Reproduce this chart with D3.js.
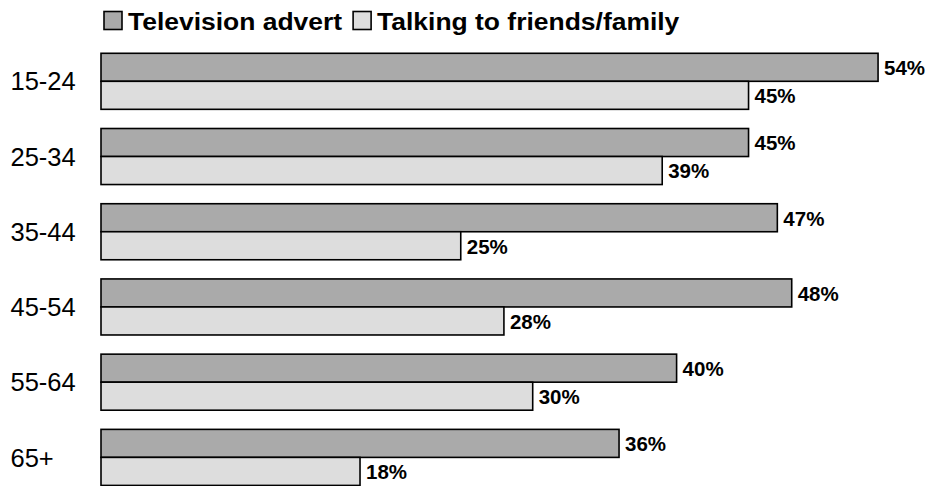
<!DOCTYPE html>
<html>
<head>
<meta charset="utf-8">
<script src="https://cdn.jsdelivr.net/npm/d3@7"></script>
<style>
  html, body { margin: 0; padding: 0; background: #fff; }
  svg { display: block; font-family: "Liberation Sans", Arial, sans-serif; }
</style>
</head>
<body>
<svg id="chart" width="929" height="486"></svg>
<script>
// Age groups and the share of each group reached through each channel (%)
const ageGroups = ["15-24", "25-34", "35-44", "45-54", "55-64", "65+"];
const seriesNames = ["Television advert", "Talking to friends/family"];
const televisionAdvert = [54, 45, 47, 48, 40, 36];
const talkingToFriends = [45, 39, 25, 28, 30, 18];
const seriesColors = ["#aaaaaa", "#dddddd"];

const rows = ageGroups.map((g, i) => ({
  group: g,
  values: [televisionAdvert[i], talkingToFriends[i]]
}));

const svg = d3.select("#chart");

const x = d3.scaleLinear().domain([0, 60]).range([101, 964.4]);

const y = d3.scaleBand()
  .domain(ageGroups)
  .range([43.7, 495])
  .paddingInner(0.255)
  .paddingOuter(0.1275);

const ySub = d3.scaleBand()
  .domain(d3.range(seriesNames.length))
  .range([0, y.bandwidth()]);

// Category labels on the left
svg.append("g")
  .selectAll("text")
  .data(ageGroups)
  .join("text")
  .attr("x", 10.5)
  .attr("y", d => y(d) + y.bandwidth() / 2)
  .attr("dy", "0.36em")
  .attr("font-size", 25.5)
  .attr("fill", "#000")
  .text(d => d);

// Bars
const groups = svg.append("g")
  .selectAll("g")
  .data(rows)
  .join("g")
  .attr("transform", d => `translate(0,${y(d.group)})`);

groups.selectAll("rect")
  .data(d => d.values.map((v, k) => ({ v, k })))
  .join("rect")
  .attr("x", x(0))
  .attr("y", d => ySub(d.k))
  .attr("width", d => x(d.v) - x(0))
  .attr("height", ySub.bandwidth())
  .attr("fill", d => seriesColors[d.k])
  .attr("stroke", "#000")
  .attr("stroke-width", 1.6);

// Value labels at the end of each bar
groups.selectAll("text")
  .data(d => d.values.map((v, k) => ({ v, k })))
  .join("text")
  .attr("x", d => x(d.v) + 6)
  .attr("y", d => ySub(d.k) + ySub.bandwidth() / 2)
  .attr("dy", "0.38em")
  .attr("font-size", 20.5)
  .attr("font-weight", "bold")
  .attr("fill", "#000")
  .text(d => d.v + "%");

// Legend along the top; the bold text is drawn slightly widened
const legend = svg.append("g");
const stretch = 1.08;
let lx = 104;
seriesNames.forEach((name, k) => {
  legend.append("rect")
    .attr("x", lx)
    .attr("y", 11.5)
    .attr("width", 18)
    .attr("height", 18)
    .attr("fill", seriesColors[k])
    .attr("stroke", "#000")
    .attr("stroke-width", 1.6);
  const t = legend.append("text")
    .attr("transform", `translate(${lx + 24},30) scale(${stretch},1)`)
    .attr("font-size", 24.5)
    .attr("font-weight", "bold")
    .attr("fill", "#000")
    .text(name);
  lx += 24 + t.node().getComputedTextLength() * stretch + 11;
});
</script>
</body>
</html>
